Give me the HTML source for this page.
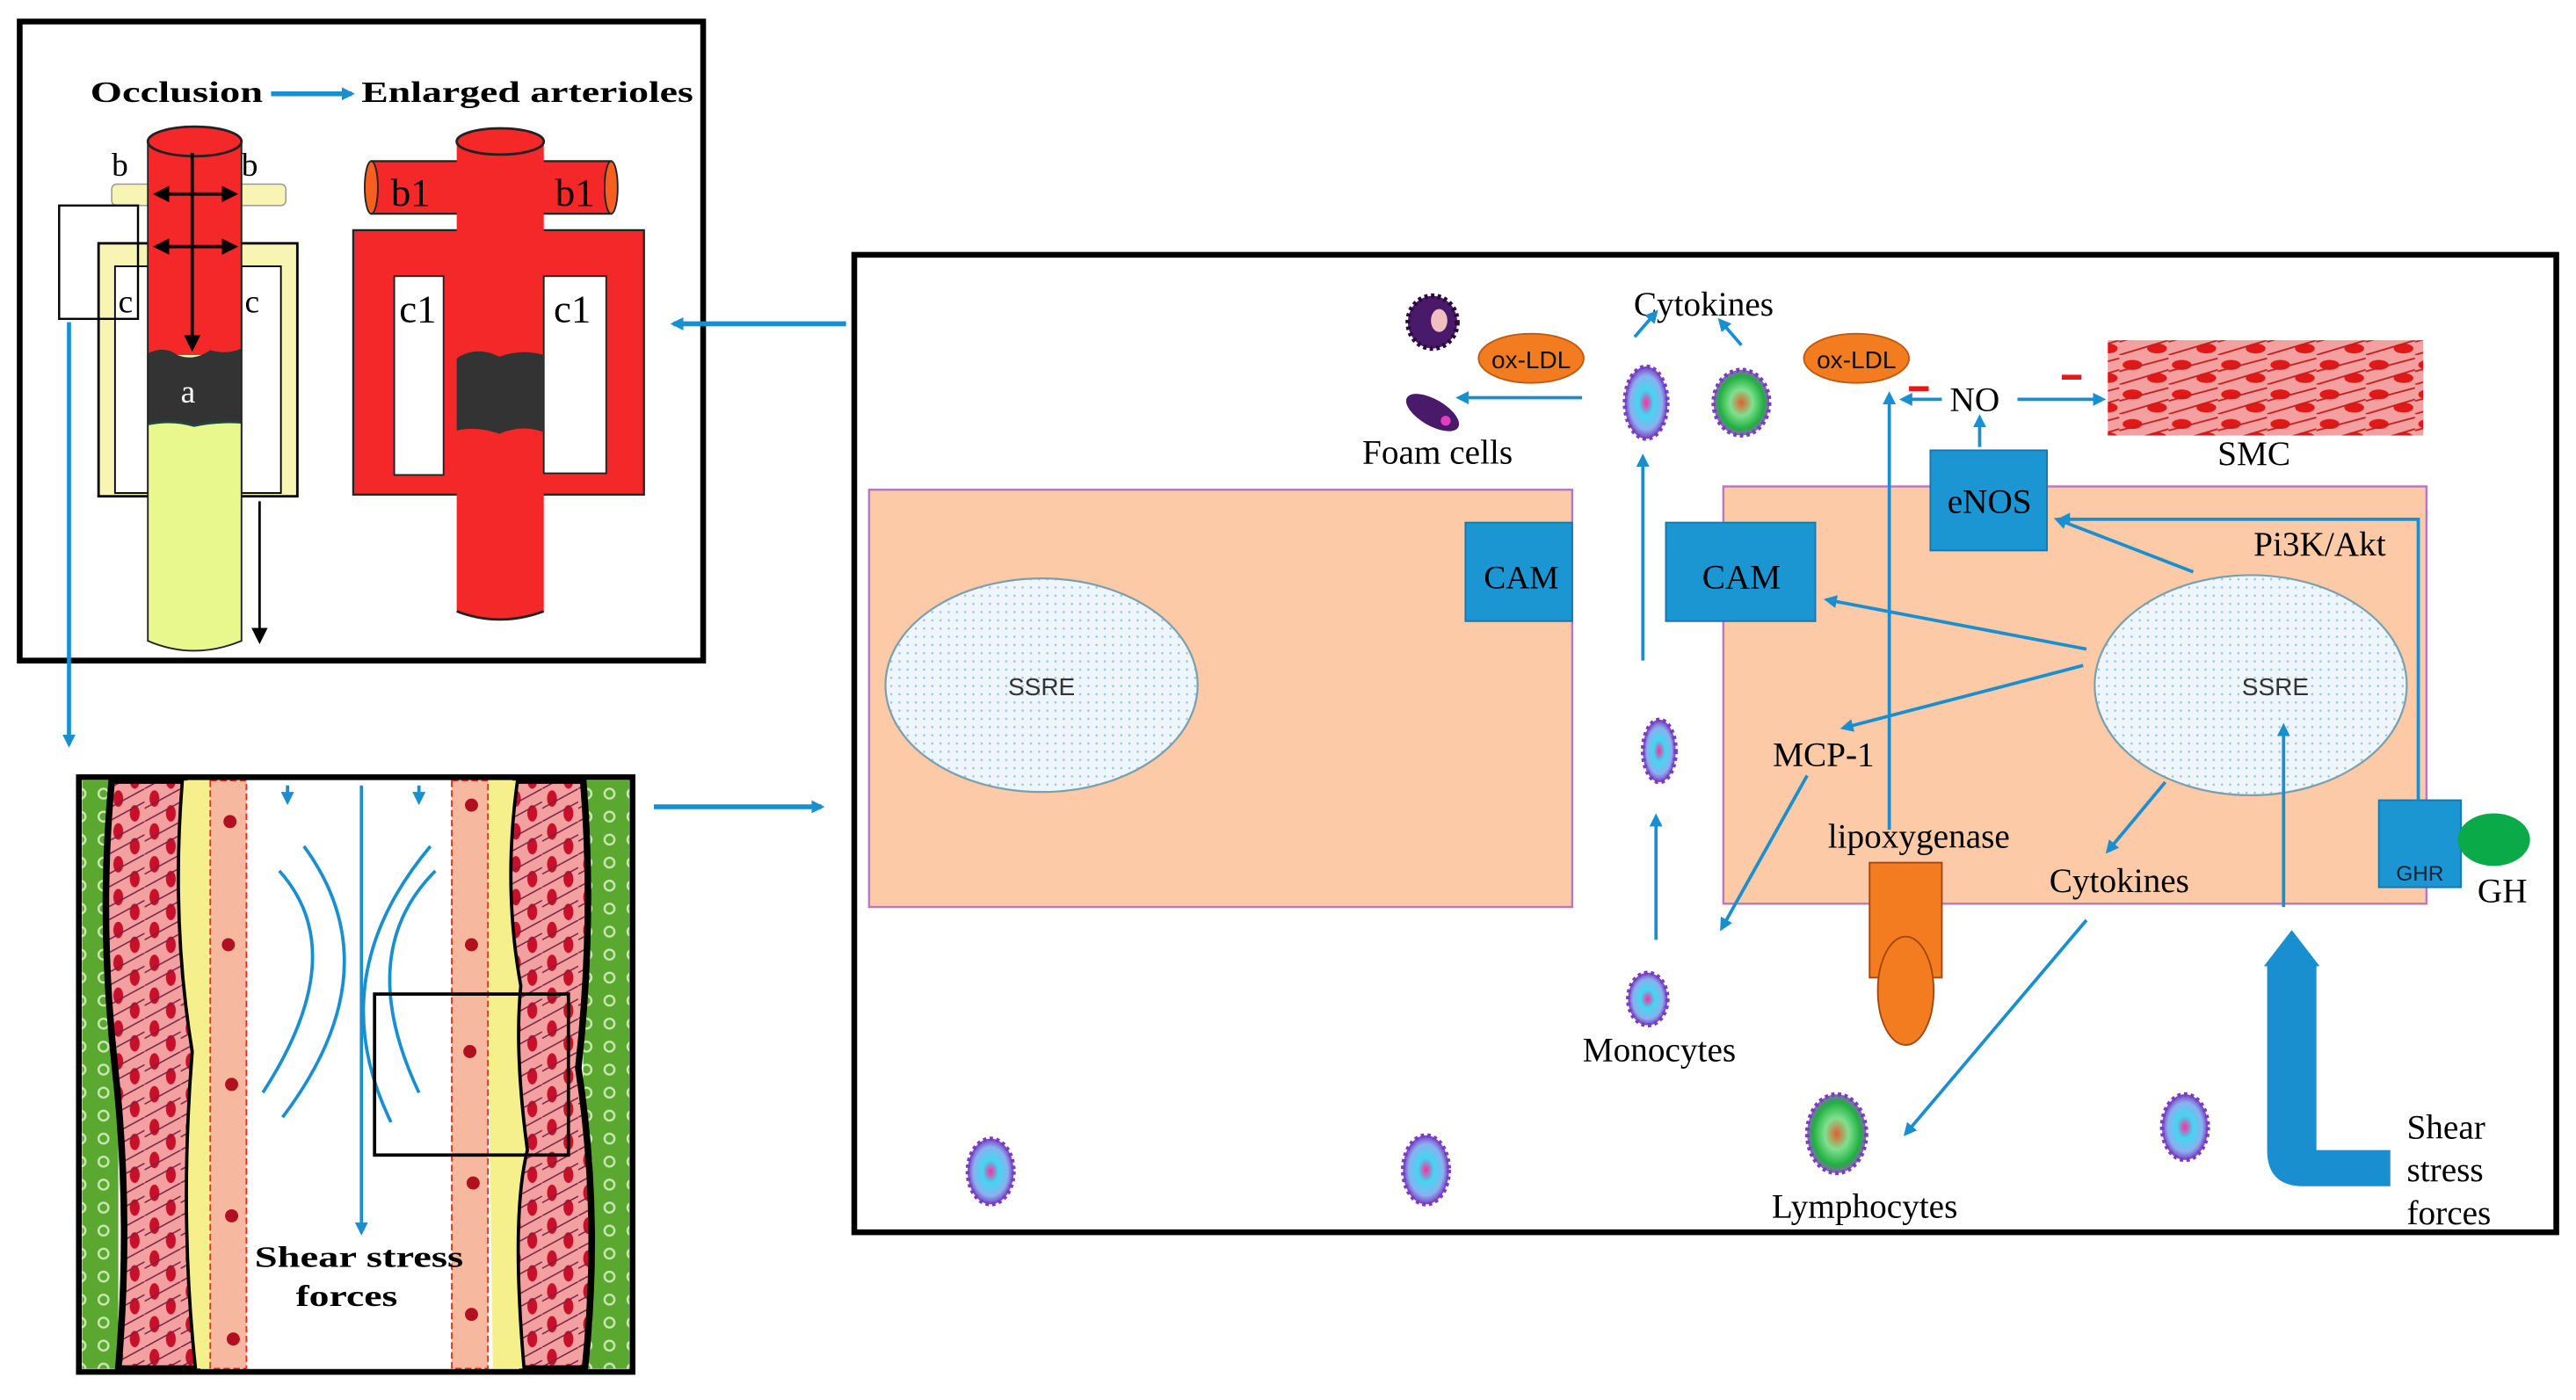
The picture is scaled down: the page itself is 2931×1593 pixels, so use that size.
<!DOCTYPE html>
<html><head><meta charset="utf-8"><style>html,body{margin:0;padding:0;background:#fff}svg{display:block}</style></head>
<body>
<svg width="2931" height="1593" viewBox="0 0 1568 852" xmlns="http://www.w3.org/2000/svg">
<defs>
<marker id="ab" markerWidth="8" markerHeight="8" refX="6" refY="4" orient="auto" markerUnits="userSpaceOnUse"><path d="M0,0 L8,4 L0,8 z" fill="#1a8fd0"/></marker>
<marker id="ak" markerWidth="10" markerHeight="10" refX="8" refY="5" orient="auto" markerUnits="userSpaceOnUse"><path d="M0,0 L10,5 L0,10 z" fill="#000"/></marker>
<pattern id="dots" width="5" height="5" patternUnits="userSpaceOnUse"><rect width="5" height="5" fill="#eef6fb"/><circle cx="2.5" cy="2.5" r="0.7" fill="#9cc8e0"/></pattern>
<radialGradient id="mono"><stop offset="0" stop-color="#ff2aa0"/><stop offset="0.35" stop-color="#40d8f0"/><stop offset="0.75" stop-color="#8ab0f0"/><stop offset="1" stop-color="#7a3cc0"/></radialGradient>
<radialGradient id="lym"><stop offset="0" stop-color="#e06030"/><stop offset="0.4" stop-color="#80e090"/><stop offset="0.8" stop-color="#20b040"/><stop offset="1" stop-color="#9060c0"/></radialGradient>
<pattern id="smc" width="30" height="18" patternUnits="userSpaceOnUse"><rect width="30" height="18" fill="#f5a0a0"/><ellipse cx="8" cy="6" rx="6" ry="3" fill="#e01818"/><ellipse cx="23" cy="14" rx="6" ry="3" fill="#e01818"/><path d="M0,10 L30,2 M0,18 L30,9" stroke="#c02020" stroke-width="1"/></pattern>
<pattern id="musc" width="22" height="20" patternUnits="userSpaceOnUse"><rect width="22" height="20" fill="#f2a0a0"/><ellipse cx="6" cy="6" rx="3" ry="5" fill="#c8102a"/><ellipse cx="16" cy="15" rx="3" ry="5" fill="#c8102a"/><path d="M0,12 L22,0 M0,20 L22,8" stroke="#7a2040" stroke-width="0.8"/></pattern>
<pattern id="grn" width="14" height="14" patternUnits="userSpaceOnUse"><rect width="14" height="14" fill="#5aa830"/><circle cx="7" cy="7" r="3" fill="none" stroke="#c8e8b0" stroke-width="1.3"/></pattern>
</defs>

<!-- TOP LEFT BOX -->
<rect x="12" y="13" width="416" height="389" fill="#fff" stroke="#000" stroke-width="3.5"/>
<text x="55" y="62" font-family="Liberation Serif,serif" font-weight="bold" font-size="18" textLength="105" lengthAdjust="spacingAndGlyphs">Occlusion</text>
<line x1="165" y1="57" x2="214" y2="57" stroke="#1a8fd0" stroke-width="3" marker-end="url(#ab)"/>
<text x="220" y="62" font-family="Liberation Serif,serif" font-weight="bold" font-size="18" textLength="202" lengthAdjust="spacingAndGlyphs">Enlarged arterioles</text>
<!-- left vessel -->
<rect x="60" y="148" width="121" height="154" fill="#f8f4b4" stroke="#000" stroke-width="1.5"/>
<rect x="70" y="162" width="20" height="138" fill="#fff" stroke="#000" stroke-width="1"/>
<rect x="147" y="162" width="24" height="138" fill="#fff" stroke="#000" stroke-width="1"/>
<rect x="68" y="112" width="106" height="13" rx="3" fill="#f8f4b4" stroke="#999" stroke-width="0.8"/>
<rect x="90" y="86" width="57" height="130" fill="#f42828"/>
<ellipse cx="118.5" cy="86" rx="28.5" ry="9" fill="#f42828" stroke="#222" stroke-width="1.5"/>
<path d="M90,215 Q100,210 108,216 Q118,220 128,213 Q138,216 147,212 L147,260 L90,260 z" fill="#333"/>
<path d="M90,258 Q105,255 118,259 Q132,256 147,257 L147,390 Q118,402 90,390 z" fill="#e8f88c"/>
<path d="M90,258 Q105,255 118,259 Q132,256 147,257" stroke="#244" stroke-width="1.5" fill="none"/>
<path d="M90,86 L90,390 Q118,402 147,390 L147,86" stroke="#222" stroke-width="1" fill="none"/>
<line x1="117" y1="93" x2="117" y2="212" stroke="#000" stroke-width="2" marker-end="url(#ak)"/>
<line x1="117" y1="118" x2="95" y2="118" stroke="#000" stroke-width="2" marker-end="url(#ak)"/>
<line x1="117" y1="118" x2="143" y2="118" stroke="#000" stroke-width="2" marker-end="url(#ak)"/>
<line x1="117" y1="150" x2="95" y2="150" stroke="#000" stroke-width="2" marker-end="url(#ak)"/>
<line x1="117" y1="150" x2="143" y2="150" stroke="#000" stroke-width="2" marker-end="url(#ak)"/>
<text x="68" y="107" font-family="Liberation Serif,serif" font-size="20">b</text>
<text x="147" y="107" font-family="Liberation Serif,serif" font-size="20">b</text>
<text x="72" y="190" font-family="Liberation Serif,serif" font-size="20">c</text>
<text x="149" y="190" font-family="Liberation Serif,serif" font-size="20">c</text>
<text x="110" y="245" font-family="Liberation Serif,serif" font-size="20" fill="#fff">a</text>
<rect x="36" y="125" width="48" height="69" fill="none" stroke="#000" stroke-width="1.3"/>
<line x1="158" y1="305" x2="158" y2="390" stroke="#000" stroke-width="1.5" marker-end="url(#ak)"/>
<!-- right vessel -->
<rect x="226" y="98" width="146" height="32" fill="#f42828" stroke="#222" stroke-width="1.2"/>
<ellipse cx="372" cy="114" rx="4" ry="16" fill="#f46020" stroke="#222"/>
<ellipse cx="226" cy="114" rx="4" ry="16" fill="#f46020" stroke="#222"/>
<rect x="215" y="140" width="177" height="161" fill="#f42828" stroke="#222" stroke-width="1.2"/>
<path d="M278,86 L331,86 L331,372 Q304,382 278,372z" fill="#f42828"/>
<ellipse cx="304.5" cy="86" rx="26.5" ry="8" fill="#f42828" stroke="#222" stroke-width="1.5"/>
<path d="M278,372 Q304,382 331,372" stroke="#222" fill="none" stroke-width="1.5"/>
<rect x="240" y="168" width="30" height="121" fill="#fff" stroke="#222"/>
<rect x="331" y="168" width="38" height="120" fill="#fff" stroke="#222"/>
<path d="M278,218 Q290,210 304,217 Q318,212 331,216 L331,263 Q318,258 304,264 Q290,259 278,262 z" fill="#333"/>
<text x="238" y="125" font-family="Liberation Serif,serif" font-size="24">b1</text>
<text x="338" y="125" font-family="Liberation Serif,serif" font-size="24">b1</text>
<text x="243" y="196" font-family="Liberation Serif,serif" font-size="24">c1</text>
<text x="337" y="196" font-family="Liberation Serif,serif" font-size="24">c1</text>

<line x1="42" y1="196" x2="42" y2="453" stroke="#1a8fd0" stroke-width="2.5" marker-end="url(#ab)"/>
<line x1="515" y1="197" x2="410" y2="197" stroke="#1a8fd0" stroke-width="3" marker-end="url(#ab)"/>
<line x1="398" y1="491" x2="500" y2="491" stroke="#1a8fd0" stroke-width="3" marker-end="url(#ab)"/>

<!-- BOTTOM LEFT BOX -->
<rect x="48" y="473" width="337" height="362" fill="#fff"/>
<rect x="50" y="475" width="22" height="358" fill="url(#grn)"/>
<rect x="355" y="475" width="28" height="358" fill="url(#grn)"/>
<path d="M68,475 L112,475 Q105,560 118,640 Q110,740 120,833 L72,833 Q80,740 70,650 Q60,560 68,475z" fill="url(#musc)" stroke="#000" stroke-width="4"/>
<path d="M314,475 L355,475 Q362,560 352,650 Q366,740 356,833 L318,833 Q310,740 320,700 Q312,640 316,600 Q305,540 314,475z" fill="url(#musc)" stroke="#000" stroke-width="4"/>
<path d="M112,475 L132,475 L138,833 L120,833 Q110,740 118,640 Q105,560 112,475z" fill="#f6f08c"/>
<path d="M295,475 L314,475 Q305,540 316,600 Q312,640 320,700 Q310,740 318,833 L300,833z" fill="#f6f08c"/>
<rect x="128" y="475" width="22" height="358" fill="#f7b8a0" stroke="#e83020" stroke-width="1" stroke-dasharray="4 2"/>
<rect x="275" y="475" width="22" height="358" fill="#f7b8a0" stroke="#e83020" stroke-width="1" stroke-dasharray="4 2"/>
<g fill="#b01020"><circle cx="140" cy="500" r="4"/><circle cx="139" cy="575" r="4"/><circle cx="141" cy="660" r="4"/><circle cx="141" cy="740" r="4"/><circle cx="142" cy="815" r="4"/><circle cx="287" cy="490" r="4"/><circle cx="287" cy="575" r="4"/><circle cx="286" cy="640" r="4"/><circle cx="288" cy="720" r="4"/><circle cx="287" cy="800" r="4"/></g>
<rect x="48" y="473" width="337" height="362" fill="none" stroke="#000" stroke-width="3.5"/>
<line x1="220" y1="478" x2="220" y2="750" stroke="#1a8fd0" stroke-width="2" marker-end="url(#ab)"/>
<line x1="175" y1="478" x2="175" y2="488" stroke="#1a8fd0" stroke-width="2" marker-end="url(#ab)"/>
<line x1="255" y1="478" x2="255" y2="488" stroke="#1a8fd0" stroke-width="2" marker-end="url(#ab)"/>
<g fill="none" stroke="#1a8fd0" stroke-width="2">
<path d="M170,530 Q215,580 160,665"/><path d="M185,515 Q240,590 172,680"/>
<path d="M265,530 Q215,580 255,665"/><path d="M262,515 Q195,595 238,683"/></g>
<rect x="228" y="605" width="118" height="98" fill="none" stroke="#000" stroke-width="2"/>
<text x="155" y="771" font-family="Liberation Serif,serif" font-weight="bold" font-size="18" textLength="127" lengthAdjust="spacingAndGlyphs">Shear stress</text>
<text x="180" y="795" font-family="Liberation Serif,serif" font-weight="bold" font-size="18" textLength="62" lengthAdjust="spacingAndGlyphs">forces</text>

<!-- BIG RIGHT BOX -->
<rect x="520" y="155" width="1036" height="595" fill="#fff" stroke="#000" stroke-width="3.5"/>
<rect x="529" y="298" width="428" height="254" fill="#fccaa6" stroke="#b878c8" stroke-width="1.3"/>
<rect x="1049" y="296" width="428" height="254" fill="#fccaa6" stroke="#b878c8" stroke-width="1.3"/>
<ellipse cx="634" cy="417" rx="95" ry="65" fill="url(#dots)" stroke="#7aa0b0" stroke-width="1.2"/>
<ellipse cx="1370" cy="417" rx="95" ry="67" fill="url(#dots)" stroke="#7aa0b0" stroke-width="1.2"/>
<text x="634" y="423" text-anchor="middle" font-family="Liberation Sans,sans-serif" font-size="15" fill="#333">SSRE</text>
<text x="1385" y="423" text-anchor="middle" font-family="Liberation Sans,sans-serif" font-size="15" fill="#333">SSRE</text>
<g fill="#1b96d2" stroke="#1478b0"><rect x="892" y="318" width="65" height="60"/><rect x="1014" y="318" width="91" height="60"/><rect x="1175" y="274" width="71" height="61"/><rect x="1448" y="487" width="50" height="53"/></g>
<g font-family="Liberation Serif,serif" font-size="21" fill="#000">
<text x="926" y="358" text-anchor="middle" font-size="20">CAM</text><text x="1060" y="358" text-anchor="middle">CAM</text>
<text x="1211" y="312" text-anchor="middle">eNOS</text>
<text x="1037" y="192" text-anchor="middle">Cytokines</text>
<text x="875" y="282" text-anchor="middle">Foam cells</text>
<text x="1202" y="250" text-anchor="middle">NO</text>
<text x="1372" y="283" text-anchor="middle">SMC</text>
<text x="1412" y="338" text-anchor="middle">Pi3K/Akt</text>
<text x="1110" y="466" text-anchor="middle">MCP-1</text>
<text x="1168" y="516" text-anchor="middle">lipoxygenase</text>
<text x="1290" y="543" text-anchor="middle">Cytokines</text>
<text x="1010" y="646" text-anchor="middle">Monocytes</text>
<text x="1135" y="741" text-anchor="middle">Lymphocytes</text>
<text x="1465" y="693">Shear</text><text x="1465" y="719">stress</text><text x="1465" y="745">forces</text>
<text x="1508" y="549">GH</text>
</g>
<text x="1473" y="536" text-anchor="middle" font-family="Liberation Sans,sans-serif" font-size="13" fill="#123">GHR</text>
<ellipse cx="1518" cy="511" rx="22" ry="16" fill="#0aaa48"/>
<g fill="#f47c20" stroke="#c05a10"><ellipse cx="932" cy="218" rx="32" ry="15"/><ellipse cx="1130" cy="218" rx="32" ry="15"/></g>
<g font-family="Liberation Sans,sans-serif" font-size="15" fill="#111"><text x="932" y="224" text-anchor="middle">ox-LDL</text><text x="1130" y="224" text-anchor="middle">ox-LDL</text></g>
<rect x="1138" y="525" width="44" height="70" fill="#f47c20" stroke="#a04810"/>
<ellipse cx="1160" cy="603" rx="17" ry="33" fill="#f47c20" stroke="#a04810"/>
<rect x="1283" y="207" width="192" height="58" fill="url(#smc)"/>
<g fill="#e81818"><rect x="1162" y="235" width="12" height="3"/><rect x="1255" y="228" width="12" height="3"/></g>
<!-- thin arrows -->
<g stroke="#1a8fd0" stroke-width="2" fill="none" marker-end="url(#ab)">
<line x1="963" y1="242" x2="888" y2="242"/>
<line x1="1000" y1="402" x2="1000" y2="278"/>
<line x1="1008" y1="572" x2="1008" y2="497"/>
<line x1="995" y1="205" x2="1008" y2="190"/>
<line x1="1060" y1="210" x2="1047" y2="195"/>
<line x1="1150" y1="505" x2="1150" y2="240"/>
<line x1="1182" y1="243" x2="1158" y2="243"/>
<line x1="1228" y1="243" x2="1280" y2="243"/>
<line x1="1205" y1="272" x2="1205" y2="254"/>
<line x1="1270" y1="395" x2="1112" y2="365"/>
<line x1="1335" y1="348" x2="1252" y2="316"/>
<polyline points="1472,487 1472,316 1254,316"/>
<line x1="1268" y1="405" x2="1122" y2="443"/>
<line x1="1100" y1="472" x2="1048" y2="565"/>
<line x1="1318" y1="476" x2="1283" y2="518"/>
<line x1="1270" y1="560" x2="1160" y2="690"/>
<line x1="1390" y1="552" x2="1390" y2="442"/>
</g>
<!-- big shear arrow -->
<path d="M1380,588 L1380,700 Q1380,722 1402,722 L1455,722 L1455,700 L1410,700 L1410,588 L1412,588 L1395,566 L1378,588z" fill="#1a8fd0"/>
<!-- cells -->
<g stroke="#7a3cc0" stroke-width="2.5" stroke-dasharray="2 2">
<ellipse cx="1002" cy="245" rx="13" ry="22" fill="url(#mono)"/>
<ellipse cx="1060" cy="245" rx="17" ry="20" fill="url(#lym)"/>
<ellipse cx="1010" cy="457" rx="10" ry="19" fill="url(#mono)"/>
<ellipse cx="1003" cy="608" rx="12" ry="16" fill="url(#mono)"/>
<ellipse cx="1118" cy="690" rx="18" ry="24" fill="url(#lym)"/>
<ellipse cx="1330" cy="686" rx="14" ry="20" fill="url(#mono)"/>
<ellipse cx="603" cy="713" rx="14" ry="20" fill="url(#mono)"/>
<ellipse cx="868" cy="712" rx="14" ry="21" fill="url(#mono)"/>
</g>
<ellipse cx="872" cy="196" rx="15" ry="16" fill="#4a1a6a" stroke="#2a0a40" stroke-width="3" stroke-dasharray="2 2"/>
<ellipse cx="876" cy="195" rx="5" ry="7" fill="#f0c0c0"/>
<ellipse cx="872" cy="251" rx="18" ry="8" transform="rotate(30 872 251)" fill="#4a1a6a"/>
<circle cx="880" cy="256" r="3" fill="#e040c0"/>
</svg>
</body></html>
